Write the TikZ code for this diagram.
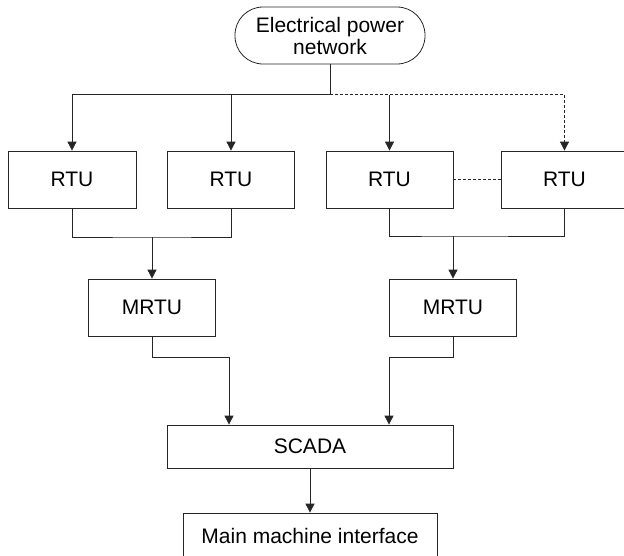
\documentclass[tikz,border=0pt]{standalone}
\usepackage{fontspec}
\setmainfont{Liberation Sans}
\usetikzlibrary{arrows.meta}
\begin{document}
\begin{tikzpicture}[x=1pt,y=-1pt,
  every node/.style={font=\fontsize{21}{22}\selectfont, text=black, inner sep=0pt},
  box/.style={draw=black!85, line width=0.8pt, minimum height=57pt, minimum width=127pt},
  conn/.style={draw=black!85, line width=0.8pt},
  arr/.style={conn, -{Triangle[width=9pt,length=9pt]}},
  dsh/.style={conn, dash pattern=on 3pt off 2pt}]
\useasboundingbox (0,0) rectangle (624,555);
\node[box, rounded corners=28pt, minimum width=190pt, align=center] (net) at (330,35.5) {Electrical power\\network};
\node[box, minimum width=128pt] (r1) at (72,179.5) {RTU};
\node[box] (r2) at (231,179.5) {RTU};
\node[box] (r3) at (389.5,179.5) {RTU};
\node[box] (r4) at (564.5,179.5) {RTU};
\node[box] (m1) at (152,307.5) {MRTU};
\node[box] (m2) at (453,307.5) {MRTU};
\node[box, minimum width=286pt, minimum height=43pt] (scada) at (310,446.5) {SCADA};
\node[box, minimum width=254pt, minimum height=45pt] (main) at (310,535.5) {Main machine interface};
\coordinate (j) at (330,94.5);
\coordinate (ja) at (152,237);
\coordinate (jb) at (453,236);
\coordinate (ka) at (229,357);
\coordinate (kb) at (389,357);
% top distribution
\draw[conn] (net.south) -- (j);
\draw[arr] (j) -| (r1.north);
\draw[arr] (r2.north |- j) -- (r2.north);
\draw[arr] (r3.north |- j) -- (r3.north);
\draw[dsh, -{Triangle[width=9pt,length=9pt]}] (j) -| (r4.north);
\draw[dsh] (r3.east) -- (r4.west);
% RTU to MRTU
\draw[conn] (r1.south) |- (ja) -| (r2.south);
\draw[arr] (ja) -- (m1.north);
\draw[conn] (r3.south) |- (jb) -| (r4.south);
\draw[arr] (jb) -- (m2.north);
% MRTU to SCADA
\draw[conn] (m1.south) |- (ka);
\draw[arr] (ka) -- (ka |- scada.north);
\draw[conn] (m2.south) |- (kb);
\draw[arr] (kb) -- (kb |- scada.north);
% SCADA to main
\draw[arr] (scada.south) -- (main.north);
\end{tikzpicture}
\end{document}
